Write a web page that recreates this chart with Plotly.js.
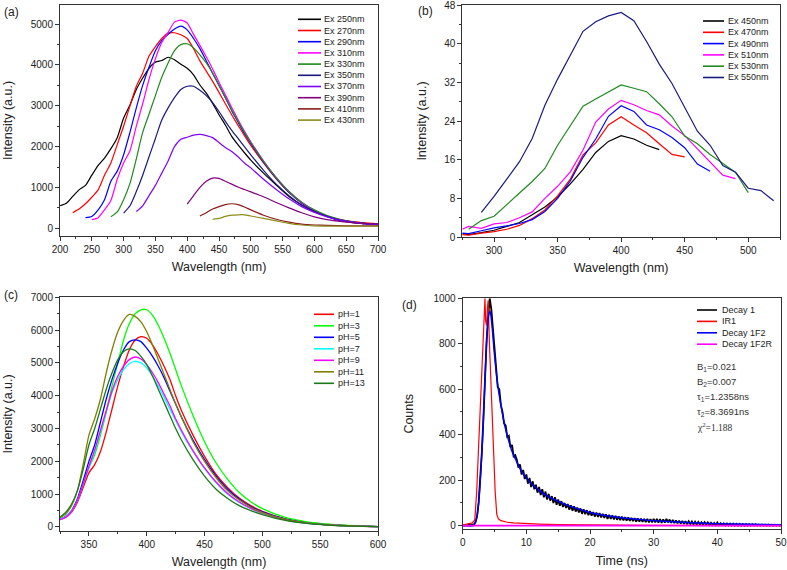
<!DOCTYPE html>
<html><head><meta charset="utf-8">
<script src="https://cdn.plot.ly/plotly-3.0.1.min.js"></script>
<style>html,body{margin:0;padding:0;background:#fff}#chart{width:787px;height:570px}</style>
</head><body><div id="chart"></div>
<script>
// ---------------- Panel (a) ----------------
const aNames = ['Ex 250nm','Ex 270nm','Ex 290nm','Ex 310nm','Ex 330nm','Ex 350nm','Ex 370nm','Ex 390nm','Ex 410nm','Ex 430nm'];
const aColors = ['#000000','#ff0000','#0000ff','#ff00ff','#1f8a1f','#1a1a80','#8000ff','#800080','#8b1a1a','#8c8c1a'];
const a250x = [200,210,220,230,240,250,260,270,280,290,300,310,320,330,340,350,360,370,380,390,400,410,420,430,440,450,460,470,480,490,500,520,540,560,580,600,620,640,660,680,700];
const a250y = [550,610,780,940,1050,1300,1540,1720,1950,2220,2700,3020,3400,3680,3920,4070,4110,4190,4130,4020,3920,3760,3510,3310,3060,2780,2530,2250,2040,1850,1670,1350,1060,780,570,410,290,190,140,110,80];
const a270x = [220,230,240,250,260,270,280,290,300,310,320,330,340,350,360,370,380,390,400,410,420,430,440,450,460,470,480,490,500,520,540,560,580,600,620,640,660,680,700];
const a270y = [380,470,600,760,940,1300,1600,2050,2500,3000,3480,3800,4220,4450,4650,4780,4790,4740,4650,4400,4100,3850,3600,3330,3050,2780,2520,2270,2030,1600,1210,880,620,430,300,210,160,130,110];
const a290x = [240,250,260,270,280,290,300,310,320,330,340,350,360,370,380,390,400,410,420,430,440,450,460,470,480,490,500,520,540,560,580,600,620,640,660,680,700];
const a290y = [260,290,450,700,1150,1400,1800,2350,2950,3500,3950,4350,4600,4750,4880,4950,4860,4650,4400,4100,3800,3500,3200,2880,2600,2320,2080,1620,1220,880,620,430,290,200,150,110,90];
const a310x = [250,260,270,280,290,300,310,320,330,340,350,360,370,380,390,400,410,420,430,440,450,460,470,480,490,500,520,540,560,580,600,620,640,660,680,700];
const a310y = [210,260,450,680,1200,1600,1900,2500,3050,3650,4150,4550,4800,5050,5100,5030,4750,4480,4200,3900,3580,3270,2960,2660,2380,2120,1650,1240,900,630,440,300,210,150,110,90];
const a330x = [280,290,300,310,320,330,340,350,360,370,380,390,400,410,420,430,440,450,460,470,480,490,500,520,540,560,580,600,620,640,660,680,700];
const a330y = [280,400,700,1100,1700,2350,2800,3250,3700,4050,4350,4500,4520,4420,4250,4050,3800,3500,3200,2900,2620,2350,2100,1640,1240,900,640,450,310,220,160,120,100];
const a350x = [300,310,320,330,340,350,360,370,380,390,400,410,420,430,440,450,460,470,480,490,500,520,540,560,580,600,620,640,660,680,700];
const a350y = [370,550,900,1300,1750,2200,2650,2950,3200,3400,3480,3480,3380,3250,3080,2860,2620,2400,2200,2000,1800,1420,1080,800,570,410,290,200,150,110,90];
const a370x = [320,330,340,350,360,370,380,390,400,410,420,430,440,450,460,470,480,490,500,520,540,560,580,600,620,640,660,680,700];
const a370y = [410,550,800,1050,1350,1650,2000,2180,2230,2280,2300,2270,2220,2100,1980,1880,1750,1600,1480,1200,950,720,530,390,280,200,150,110,90];
const a390x = [400,410,420,430,440,450,460,470,480,490,500,520,540,560,580,600,620,640,660,680,700];
const a390y = [590,800,1000,1150,1230,1220,1150,1080,1010,950,890,770,630,500,380,280,210,170,140,120,110];
const a410x = [420,430,440,450,460,470,480,490,500,520,540,560,580,600,620,650,700];
const a410y = [300,380,470,530,580,600,580,520,450,320,220,150,100,80,70,60,60];
const a430x = [440,450,460,470,480,490,500,520,540,560,580,600,650,700];
const a430y = [220,240,290,320,330,330,300,240,180,120,80,60,50,50];

// ---------------- Panel (b) ----------------
const bNames = ['Ex 450nm','Ex 470nm','Ex 490nm','Ex 510nm','Ex 530nm','Ex 550nm'];
const bColors = ['#000000','#ff0000','#0000ff','#ff00ff','#1f8a1f','#1a1a80'];
const bTicks = [0, 8, 16, 24, 32, 40, 48];
const b450x = [275,280,290,300,310,320,330,340,350,360,370,380,390,400,410,420,430];
const b450y = [0.7,0.5,0.9,1.4,2.2,3.0,4.6,6.2,8.3,11,14,17.5,19.8,21,20.3,19,18.1];
const b470x = [275,280,290,300,310,320,330,340,350,360,370,380,390,400,410,420,430,440,450];
const b470y = [0.5,0.4,0.8,1.1,1.6,2.4,3.8,5.6,8.5,12,17,19.5,23.2,24.9,23.2,21.6,19.3,17.1,16.6];
const b490x = [275,280,290,300,310,320,330,340,350,360,370,380,390,400,410,420,430,440,450,460,470];
const b490y = [0.8,0.7,1.3,1.9,2.3,2.8,3.6,5.3,8,11.6,16.5,20.3,25,27.2,26,23.2,22.2,20.6,18.5,15.1,13.6];
const b510x = [275,280,290,300,310,320,330,340,350,360,370,380,390,400,410,420,430,440,450,460,470,480,490];
const b510y = [1.6,2.2,1.8,2.7,3.0,4.0,5.2,8,10.5,13.5,18,23.8,26.5,28.3,27.4,26.2,25.3,23,21,18.3,15.5,12.8,12.1];
const b530x = [280,290,300,310,320,330,340,350,360,370,380,390,400,410,420,430,440,450,460,470,480,490,500];
const b530y = [1.6,3.4,4.3,6.6,9.1,11.5,14.2,19,23,27.1,28.6,30.1,31.5,30.8,30.1,27.6,24.9,20.9,19.3,17.1,15.3,13.4,9.2];
const b550x = [290,300,310,320,330,340,350,360,370,380,390,400,410,420,430,440,450,460,470,480,490,500,510,520];
const b550y = [5.1,8.4,12,15.6,20.4,27.3,32.7,37.8,42.6,44.6,45.8,46.5,44.8,40.5,35.8,31.8,27,21.9,19,14.8,13.4,10.1,9.6,7.5];

// ---------------- Panel (c) ----------------
const cNames = ['pH=1','pH=3','pH=5','pH=7','pH=9','pH=11','pH=13'];
const cColors = ['#ff0000','#00ff00','#0000ff','#00ffff','#ff00ff','#808000','#1a7a1a'];
const cWave = [325,330,335,340,345,350,355,360,365,370,375,380,385,390,395,400,405,410,415,420,425,430,440,450,460,470,480,490,500,520,540,560,580,600];
const cPH1  = [230,300,450,750,1200,1650,1900,2300,2900,3600,4300,4900,5400,5700,5800,5750,5550,5250,4900,4500,4000,3550,2800,2150,1600,1200,880,650,480,250,130,70,30,10];
const cPH3  = [220,320,480,800,1300,1800,2200,2800,3500,4300,5000,5700,6200,6500,6620,6620,6450,6150,5750,5300,4800,4300,3400,2600,1950,1450,1050,770,560,290,150,80,40,10];
const cPH5  = [230,330,500,850,1400,2000,2500,3200,3900,4500,5000,5400,5650,5700,5650,5450,5200,4900,4550,4150,3750,3350,2650,2050,1550,1150,850,620,460,240,120,60,30,10];
const cPH7  = [230,320,480,800,1300,1800,2300,2900,3500,4100,4500,4800,4980,5050,5000,4850,4600,4300,3950,3600,3250,2900,2300,1780,1350,1000,750,560,420,220,110,60,30,10];
const cPH9  = [220,300,470,800,1300,1850,2350,2950,3550,4150,4600,4900,5100,5180,5120,4950,4700,4400,4050,3700,3300,2950,2330,1800,1370,1020,760,570,430,220,110,60,30,10];
const cPH11 = [280,400,650,1100,1900,2800,3300,3900,4700,5400,5950,6300,6480,6420,6250,5950,5550,5100,4650,4200,3750,3350,2600,2000,1500,1100,820,600,440,230,120,60,30,10];
const cPH13 = [300,450,700,1100,1750,2500,3000,3600,4200,4700,5100,5350,5430,5380,5200,4950,4600,4200,3800,3400,3000,2650,2050,1550,1150,870,650,500,380,200,100,50,25,10];

// ---------------- Panel (d) ----------------
const dNames = ['Decay 1','IR1','Decay 1F2','Decay 1F2R'];
const dColors = ['#000000','#ff0000','#0000ff','#ff00ff'];
const decayT0 = 0, decayDt = 0.25;
const decay1 = [2,0,3,1,4,2,5,5,15,40, 100,200,320,470,650,810,920,1000,950,860,
  760,690,610,600,530,500,450,440,390,395,
  345,355,305,310,290,255,270,225,245,205,
  225,185,210,170,195,160,180,145,170,135,
  160,125,150,115,140,110,130,100,125,92,
  115,88,108,82,100,78,95,70,90,66,
  85,62,80,58,76,52,72,50,68,46,
  64,44,60,40,58,38,55,36,52,34,
  50,30,48,30,45,28,43,26,41,24,
  40,23,38,22,36,21,34,20,33,18,
  32,18,31,17,30,16,30,15,29,14,
  30,14,30,13,29,12,28,13,30,14,
  27,12,25,11,23,10,22,9,21,8,
  20,7,19,7,18,6,17,5,16,5,
  15,4,15,4,14,3,13,3,12,2,
  14,2,11,2,10,1,10,1,9,0,
  9,0,8,0,8,0,7,0,7,0,
  6,0,6,0,6,0,5,0,5,0,
  5,0,5,0,4,0,4,0,4,0,
  3];
const irT = [0,0.5,1,1.5,1.9,2.2,2.5,2.8,3.1,3.4,3.5,3.6,3.75,3.9,4.0,4.2,4.5,4.8,5.1,5.35,5.6,6,7,8,10,12,15,20,25,30,35,40,45,50];
const irV = [3,5,8,12,25,150,350,560,760,930,1000,900,880,960,990,800,580,350,150,50,30,22,15,12,9,7,5,3,2,1,1,0,0,0];
const fitT = [0,1.7,2.0,2.3,2.6,2.9,3.2,3.5,3.8,4.1,4.3,4.6,4.9,5.2,5.6,6.0,6.6,7.2,7.7,8.5,9.3,10,11,12,13,14.5,16,18,20,22,25,28,30,33,36,40,45,50];
const fitV = [0,0,15,50,130,260,430,640,830,930,944,880,780,690,598,530,440,375,330,280,235,210,180,155,135,113,95,75,58,47,35,27,22,17,13,9,6,4];
const resT = [0,10,20,30,40,50];
const resV = [0,0,0,0,0,0];
const dParams = ['B<sub>1</sub>=0.021','B<sub>2</sub>=0.007','τ<sub>1</sub>=1.2358ns','τ<sub>2</sub>=8.3691ns','χ<sup>2</sup>=1.188'];

// ---------------- build ----------------
const W = 787, H = 570;
const px = x => x / W, py = y => 1 - y / H;
const FONT = 'Liberation Sans, Arial, sans-serif';
const traces = [];
function add(x, y, color, xa, ya, width, shape) {
  traces.push({x: x, y: y, type: 'scatter', mode: 'lines', showlegend: false,
    line: {color: color, width: width || 1.2, shape: shape || 'linear', smoothing: 0.6},
    xaxis: xa, yaxis: ya, hoverinfo: 'skip'});
}
const aX = [a250x,a270x,a290x,a310x,a330x,a350x,a370x,a390x,a410x,a430x];
const aY = [a250y,a270y,a290y,a310y,a330y,a350y,a370y,a390y,a410y,a430y];
aX.forEach((x, i) => add(x, aY[i], aColors[i], 'x', 'y', 1.2, 'spline'));
const bX = [b450x,b470x,b490x,b510x,b530x,b550x];
const bY = [b450y,b470y,b490y,b510y,b530y,b550y];
bX.forEach((x, i) => add(x, bY[i], bColors[i], 'x2', 'y2', 1.2));
const cY = [cPH1,cPH3,cPH5,cPH7,cPH9,cPH11,cPH13];
cY.forEach((y, i) => add(cWave, y, cColors[i], 'x3', 'y3', 1.3, 'spline'));
const decayT = decay1.map((_, i) => decayT0 + i * decayDt);
add(decayT, decay1, dColors[0], 'x4', 'y4', 1.8);
add(irT, irV, dColors[1], 'x4', 'y4', 1.2);
add(fitT, fitV, dColors[2], 'x4', 'y4', 1.4, 'spline');
add(resT, resV, dColors[3], 'x4', 'y4', 1.8);

function minor(d) { return {ticks: 'outside', ticklen: 2, tickcolor: '#333', dtick: d, showgrid: false}; }
function axis(o) {
  return Object.assign({showline: true, mirror: true, linecolor: '#333', linewidth: 1,
    ticks: 'outside', ticklen: 4, tickwidth: 1, tickcolor: '#333', showgrid: false, zeroline: false,
    ticklabeloverflow: 'allow',
    tickfont: {family: FONT, size: 10, color: '#222'}}, o);
}
function ttl(text, standoff) { return {text: text, font: {family: FONT, size: 12.5, color: '#222'}, standoff: standoff}; }

const shapes = [], annotations = [];
function legend(names, colors, x0, x1, xt, y0, dy) {
  names.forEach((n, i) => {
    const y = y0 + i * dy;
    shapes.push({type: 'line', xref: 'paper', yref: 'paper', x0: px(x0), x1: px(x1), y0: py(y), y1: py(y),
      line: {color: colors[i], width: 1.6}});
    annotations.push({xref: 'paper', yref: 'paper', x: px(xt), y: py(y), xanchor: 'left', yanchor: 'middle',
      text: n, showarrow: false, font: {family: FONT, size: 9, color: '#222'}});
  });
}
legend(aNames, aColors, 298, 321, 322, 19.3, 11.2);
legend(bNames, bColors, 703, 724, 726, 21, 11.3);
legend(cNames, cColors, 314, 334, 336, 314.3, 11.5);
legend(dNames, dColors, 697, 717, 720, 310, 11.4);
dParams.forEach((t, i) => {
  annotations.push({xref: 'paper', yref: 'paper', x: px(695), y: py(366.7 + i * 15), xanchor: 'left', yanchor: 'middle',
    text: t, showarrow: false, font: {family: i === 4 ? 'Liberation Serif, Times New Roman, serif' : FONT, size: 9.5, color: '#333'}});
});
[['(a)', 2, 12], ['(b)', 416, 11], ['(c)', 2, 295], ['(d)', 400, 305]].forEach(l => {
  annotations.push({xref: 'paper', yref: 'paper', x: px(l[1]), y: py(l[2]), xanchor: 'left', yanchor: 'middle',
    text: l[0], showarrow: false, font: {family: FONT, size: 12, color: '#222'}});
});

const layout = {
  width: W, height: H, margin: {l: 0, r: 0, t: 0, b: 0}, paper_bgcolor: '#fff', plot_bgcolor: '#fff',
  showlegend: false,
  xaxis: axis({domain: [px(60), px(378)], range: [200, 700], dtick: 50, minor: minor(25), anchor: 'y', title: ttl('Wavelength (nm)', 8)}),
  yaxis: axis({domain: [py(236), py(5)], range: [-190, 5470], dtick: 1000, minor: minor(500), anchor: 'x', title: ttl('Intensity (a.u.)', 15)}),
  xaxis2: axis({domain: [px(462.3), px(780)], range: [275, 525], dtick: 50, tick0: 300, minor: minor(25), anchor: 'y2', title: ttl('Wavelength (nm)', 8)}),
  yaxis2: axis({domain: [py(237), py(5)], range: [0, 48.05], tickmode: 'array', tickvals: bTicks, minor: minor(4), anchor: 'x2', title: ttl('Intensity (a.u.)', 14)}),
  xaxis3: axis({domain: [px(60), px(378)], range: [325, 600], dtick: 50, tick0: 350, minor: minor(25), anchor: 'y3', title: ttl('Wavelength (nm)', 8)}),
  yaxis3: axis({domain: [py(530.5), py(297.3)], range: [-107, 7000], dtick: 1000, minor: minor(500), anchor: 'x3', title: ttl('Intensity (a.u.)', 15)}),
  xaxis4: axis({domain: [px(462.7), px(781)], range: [0, 50], dtick: 10, minor: minor(5), anchor: 'y4', title: ttl('Time (ns)', 8)}),
  yaxis4: axis({domain: [py(529.3), py(298.3)], range: [-16, 1000], dtick: 200, minor: minor(100), anchor: 'x4', title: ttl('Counts', 17)}),
  shapes: shapes, annotations: annotations
};
Plotly.newPlot('chart', traces, layout, {displayModeBar: false, staticPlot: true});
</script></body></html>
